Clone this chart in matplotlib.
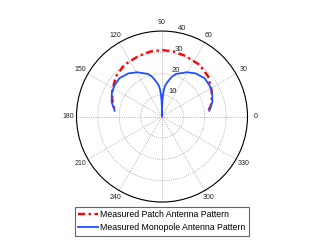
import numpy as np
import matplotlib
matplotlib.use("Agg")
import matplotlib.pyplot as plt
import matplotlib.transforms as mtransforms

plt.rcParams['font.family'] = ['Liberation Sans', 'DejaVu Sans']

# --- data (angle in degrees, radius) ---
patch_theta = [8, 12, 20, 28, 41, 54, 69, 80, 90, 100, 111, 126, 139, 152, 160, 168, 172]
patch_r = [22.0, 23.3, 24.8, 26.3, 28.6, 29.9, 30.4, 30.9, 31.1, 30.9, 30.4, 29.9, 28.6, 26.3, 24.8, 23.3, 22.0]

mono_theta = [7, 16, 25, 33, 42, 52, 61, 64, 68, 72, 76, 79, 82, 84.5, 86, 87.3, 88.5, 89.5, 90,
              90.5, 91.5, 92.7, 94, 95.5, 98, 101, 104, 108, 112, 116, 119, 128, 138, 147, 155, 164, 173]
mono_r = [22.3, 24.5, 25.9, 26.6, 26.8, 25.6, 23.7, 22.7, 21.8, 20.9, 19.2, 17.4, 15.8, 14.3, 12.5, 10.1, 7.5, 4.0, 0.0,
          4.0, 7.5, 10.1, 12.5, 14.3, 15.8, 17.4, 19.2, 20.9, 21.8, 22.7, 23.7, 25.6, 26.8, 26.6, 25.9, 24.5, 22.3]

r_ticks = [10, 20, 30, 40]
angle_ticks = list(range(0, 360, 30))
# 270 sits under the legend in the original, so it is left blank
angle_labels = [str(a) if a != 270 else '' for a in angle_ticks]

fig = plt.figure(figsize=(3.14, 2.44), dpi=100)
ax = fig.add_axes([0.2436, 0.172, 0.5446, 0.7008], projection='polar')

ax.plot(np.deg2rad(patch_theta), patch_r, color='red', lw=1.7, ls=(0, (3, 1.5, 1, 1.5)),
        label='Measured Patch Antenna Pattern')
ax.plot(np.deg2rad(mono_theta), mono_r, color='#1f4fff', lw=1.3,
        label='Measured Monopole Antenna Pattern')

ax.set_ylim(0, 40)
ax.set_yticks(r_ticks)
ax.set_yticklabels([str(v) for v in r_ticks], fontsize=5.5, color='#222222')
ax.set_rlabel_position(82)
shift = mtransforms.ScaledTranslation(4 / 100, 0, fig.dpi_scale_trans)
for lab in ax.get_yticklabels():
    lab.set_transform(lab.get_transform() + shift)
ax.set_xticks(np.deg2rad(angle_ticks))
ax.set_xticklabels(angle_labels, fontsize=5, color='#222222')
ax.tick_params(axis='x', pad=-1, length=0)
ax.grid(True, color='#999999', ls=':', lw=0.6)
ax.spines['polar'].set_color('black')
ax.spines['polar'].set_linewidth(0.8)

leg = fig.legend(loc='lower center', bbox_to_anchor=(0.516, 0.015), fontsize=6.3,
                 frameon=True, fancybox=False, edgecolor='#404040',
                 handlelength=2.2, borderpad=0.4, labelspacing=0.5, handletextpad=0.3)
leg.get_frame().set_linewidth(0.8)

fig.savefig('out.png', dpi=100)
